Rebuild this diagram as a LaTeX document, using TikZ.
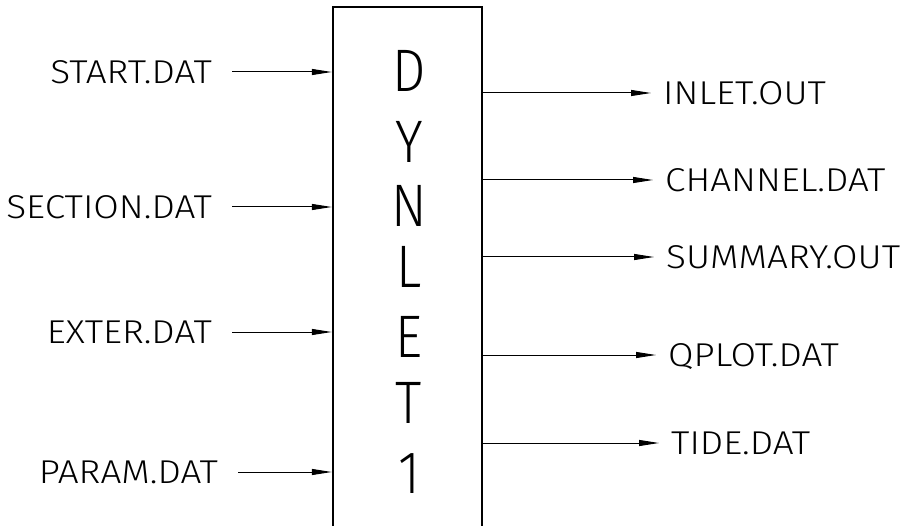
\documentclass[tikz,border=0pt]{standalone}
\usepackage{fontspec}
\usetikzlibrary{arrows.meta}
\newfontfamily\cadfont[FakeStretch=1.12]{Fira Sans Light}
\newfontfamily\cadbig[FakeStretch=0.88]{Fira Sans Light}
\begin{document}
\begin{tikzpicture}[x=1pt,y=-1pt,
  filelabel/.style={font=\cadfont\fontsize{33}{33}\selectfont, inner sep=0pt,
    text height=22.9pt, text depth=0pt},
  progletter/.style={font=\cadbig\fontsize{60}{60}\selectfont, inner sep=0pt,
    text height=41.5pt, text depth=0pt},
  flow/.style={line width=1pt, -{Triangle[length=20pt,width=6pt]}},
  progbox/.style={draw, line width=2.4pt, minimum width=149pt, minimum height=540pt,
    inner sep=0pt}]
  \useasboundingbox (0,0) rectangle (901,526);
  \clip (0,0) rectangle (901,526);

  % program block
  \node[progbox, anchor=north] (box) at (407.5,6) {};

  % program name, one letter per line
  \node[progletter] (l1) at (409,71)  {D};
  \node[progletter] (l2) at (409,142) {Y};
  \node[progletter] (l3) at (409,206) {N};
  \node[progletter] (l4) at (409,267) {L};
  \node[progletter] (l5) at (409,337) {E};
  \node[progletter] (l6) at (409,403) {T};
  \node[progletter] (l7) at (409,473) {1};

  % input files
  \node[filelabel, anchor=east] (in1) at (212,72)  {START.DAT};
  \node[filelabel, anchor=east] (in2) at (212,207) {SECTION.DAT};
  \node[filelabel, anchor=east] (in3) at (212,332) {EXTER.DAT};
  \node[filelabel, anchor=east] (in4) at (218,472) {PARAM.DAT};

  \foreach \i in {1,...,4}
    \draw[flow] ([xshift=20pt]in\i.east) -- (box.west |- in\i.east);

  % output files
  \node[filelabel, anchor=west] (out1) at (663,93)  {INLET.OUT};
  \node[filelabel, anchor=west] (out2) at (665,180) {CHANNEL.DAT};
  \node[filelabel, anchor=west] (out3) at (666,257) {SUMMARY.OUT};
  \node[filelabel, anchor=west] (out4) at (668,355) {QPLOT.DAT};
  \node[filelabel, anchor=west] (out5) at (671,443) {TIDE.DAT};

  \foreach \i in {1,...,5}
    \draw[flow] (box.east |- out\i.west) -- ([xshift=-12pt]out\i.west);
\end{tikzpicture}
\end{document}
